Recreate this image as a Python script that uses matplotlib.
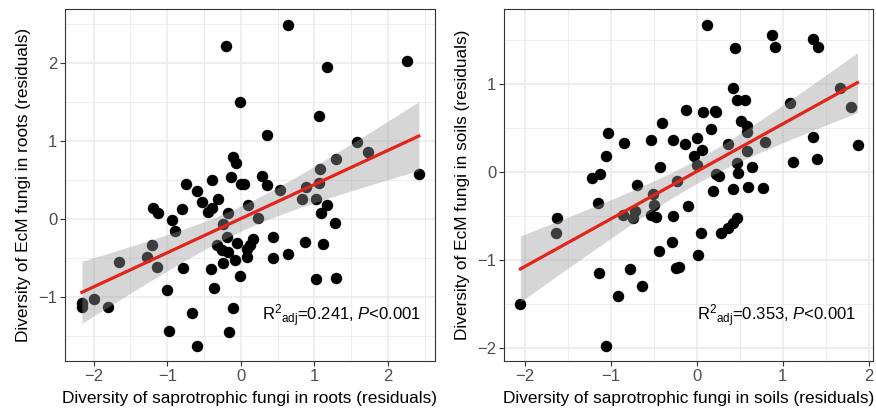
import numpy as np
import matplotlib.pyplot as plt

# left panel: saprotrophic vs EcM diversity in roots (residuals)
roots_x = [0.64, -0.20, -0.01, 1.17, 2.26, 1.06, 0.35, 1.58, 1.73, 1.29,
           1.07, 2.42, 0.29, 0.05, 0.35, 0.53, 0.88, 1.06, 0.83, 1.02,
           -0.11, -0.07, -0.14, -0.39, -0.75, -0.59, -0.53, -0.31, -0.44, -0.39,
           -0.80, -0.93, -0.90, 0.00, 0.10, 0.23, -0.18, -0.24, -0.19, -0.05,
           0.16, 0.12, 0.08, -0.33, -0.26, -0.18, -0.08, -0.24, 0.08, 0.44,
           0.44, 0.64, 0.87, -0.79, -0.41, -0.01, -1.20, -1.13, -0.37, -1.01,
           -0.67, -0.97, -0.60, -0.10, -0.16, -1.21, -1.27, -1.14, -1.65, -1.99,
           -1.81, -2.16, -2.16, 1.17, 1.09, 1.28, 1.12, 1.02, 1.29]
roots_y = [2.49, 2.21, 1.50, 1.95, 2.03, 1.32, 1.08, 0.99, 0.86, 0.77,
           0.64, 0.58, 0.55, 0.45, 0.44, 0.37, 0.41, 0.46, 0.26, 0.26,
           0.79, 0.72, 0.54, 0.50, 0.45, 0.36, 0.22, 0.26, 0.09, 0.14,
           0.13, -0.01, -0.15, 0.45, 0.18, 0.01, 0.08, -0.06, -0.23, -0.31,
           -0.26, -0.33, -0.38, -0.33, -0.40, -0.42, -0.53, -0.56, -0.49, -0.23,
           -0.50, -0.45, -0.29, -0.63, -0.64, -0.73, 0.14, 0.08, -0.88, -0.91,
           -1.21, -1.44, -1.63, -1.14, -1.45, -0.33, -0.49, -0.62, -0.55, -1.03,
           -1.13, -1.08, -1.13, 0.18, 0.08, -0.05, -0.32, -0.77, -0.76]

# right panel: saprotrophic vs EcM diversity in soils (residuals)
soils_x = [-1.03, -0.84, -1.05, -1.12, -1.22, -0.53, -0.40, -0.28, -0.12, -0.13,
           0.00, 0.07, 0.21, 0.17, 0.06, -0.03, -0.43, 0.00, -0.23, -0.69,
           0.23, 0.12, 0.45, 0.88, 0.91, 1.35, 1.41, 0.42, 0.47, 0.56,
           0.23, 0.51, 0.58, 0.58, 1.09, 1.67, 1.80, 1.87, 1.35, 0.36,
           0.59, 0.79, 0.47, 0.64, 0.26, 0.48, 1.12, 1.40, 0.19, 0.42,
           0.60, 0.77, -0.10, 0.05, 0.28, 0.36, 0.42, 0.47, 0.02, -0.20,
           -0.51, -0.50, -1.15, -1.62, -1.63, -0.86, -0.74, -0.72, -0.53, -0.47,
           -0.28, -0.29, -0.44, -0.24, -1.14, -0.77, -0.64, -0.92, -2.05, -1.05]
soils_y = [0.44, 0.33, 0.18, -0.02, -0.07, 0.36, 0.56, 0.36, 0.70, 0.32,
           0.38, 0.68, 0.69, 0.49, 0.25, 0.18, 0.06, 0.08, -0.10, -0.15,
           -0.03, 1.67, 1.41, 1.55, 1.42, 1.51, 1.42, 0.95, 0.82, 0.82,
           0.68, 0.58, 0.52, 0.45, 0.78, 0.95, 0.74, 0.31, 0.40, 0.32,
           0.24, 0.34, 0.10, 0.05, -0.05, -0.01, 0.11, 0.14, -0.22, -0.19,
           -0.17, -0.18, -0.39, -0.69, -0.70, -0.64, -0.58, -0.53, -0.94, -1.08,
           -0.25, -0.38, -0.35, -0.52, -0.69, -0.49, -0.52, -0.45, -0.49, -0.51,
           -0.50, -0.80, -0.90, -1.09, -1.15, -1.11, -1.30, -1.41, -1.50, -1.98]

labels = ['R$^2$$_{\\mathregular{adj}}$=0.241, $\\it{P}$<0.001',
          'R$^2$$_{\\mathregular{adj}}$=0.353, $\\it{P}$<0.001']

plt.rcParams['font.family'] = ['Liberation Sans', 'DejaVu Sans']
plt.rcParams['mathtext.fontset'] = 'custom'
plt.rcParams['mathtext.rm'] = 'Liberation Sans'
plt.rcParams['mathtext.it'] = 'Liberation Sans:italic'

fig = plt.figure(figsize=(8.76, 4.09), dpi=100)
ax1 = fig.add_axes([65/876, 48/409, 370/876, 352/409])
ax2 = fig.add_axes([504/876, 48/409, 369/876, 352/409])


def panel(ax, x, y, xlim, ylim, xticks, yticks, xlabel, ylabel, label, lpos):
    x = np.array(x)
    y = np.array(y)
    ax.scatter(x, y, s=68, color='black', linewidths=0, zorder=2)
    # linear fit with 95% confidence band
    b, a = np.polyfit(x, y, 1)
    n = len(x)
    xs = np.linspace(x.min(), x.max(), 100)
    fit = a + b * xs
    resid = y - (a + b * x)
    s = np.sqrt(np.sum(resid ** 2) / (n - 2))
    se = s * np.sqrt(1 / n + (xs - x.mean()) ** 2 / np.sum((x - x.mean()) ** 2))
    t = 1.99
    ax.fill_between(xs, fit - t * se, fit + t * se, color='#999999', alpha=0.4,
                    linewidth=0, zorder=3)
    ax.plot(xs, fit, color='#e3241b', lw=2.3, zorder=4)
    ax.set_xticks(xticks)
    ax.set_yticks(yticks)
    ax.set_xticks(np.arange(xlim[0] // 0.5 * 0.5, xlim[1], 0.5), minor=True)
    ax.set_yticks(np.arange(ylim[0] // 0.5 * 0.5, ylim[1], 0.5), minor=True)
    ax.set_xlim(xlim)
    ax.set_ylim(ylim)
    ax.set_xticklabels([str(v).replace('-', '\u2212') for v in xticks])
    ax.set_yticklabels([str(v).replace('-', '\u2212') for v in yticks])
    ax.grid(which='major', color='#ebebeb', lw=1.1, zorder=0)
    ax.grid(which='minor', color='#ebebeb', lw=0.6, zorder=0)
    ax.set_axisbelow(True)
    ax.tick_params(which='major', length=3.5, width=0.8, color='#333333',
                   labelsize=12, labelcolor='#4d4d4d', pad=2)
    ax.tick_params(which='minor', length=0)
    for sp in ax.spines.values():
        sp.set_color('#333333')
        sp.set_linewidth(0.8)
    ax.set_xlabel(xlabel, fontsize=12.4, labelpad=5)
    ax.set_ylabel(ylabel, fontsize=12.4, labelpad=5)
    ax.text(lpos[0], lpos[1], label, fontsize=12, ha='right', va='center', zorder=5)


panel(ax1, roots_x, roots_y, (-2.39, 2.64), (-1.82, 2.69), [-2, -1, 0, 1, 2], [-1, 0, 1, 2],
      'Diversity of saprotrophic fungi in roots (residuals)',
      'Diversity of EcM fungi in roots (residuals)', labels[0], (2.46, -1.24))
panel(ax2, soils_x, soils_y, (-2.24, 2.05), (-2.15, 1.85), [-2, -1, 0, 1, 2], [-2, -1, 0, 1],
      'Diversity of saprotrophic fungi in soils (residuals)',
      'Diversity of EcM fungi in soils (residuals)', labels[1], (1.86, -1.64))

fig.savefig('out.png', dpi=100)
